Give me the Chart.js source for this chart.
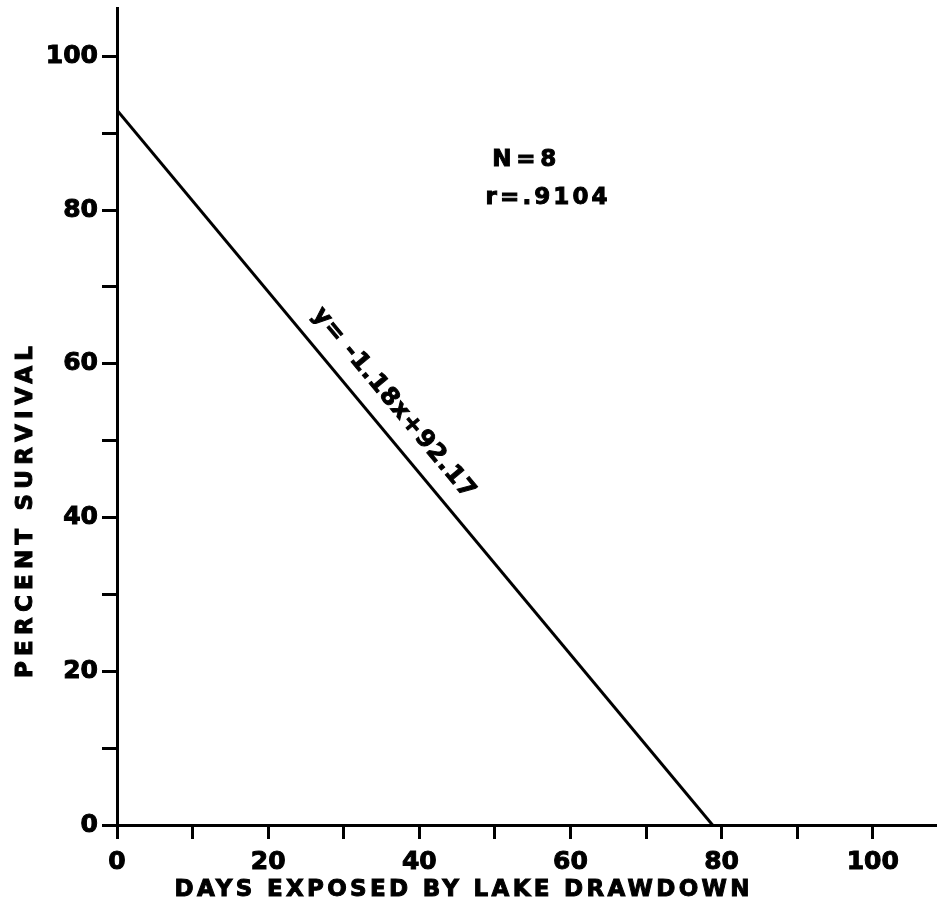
<!DOCTYPE html>
<html>
<head>
<meta charset="utf-8">
<script src="https://cdn.jsdelivr.net/npm/chart.js@4.4.1/dist/chart.umd.min.js"></script>
<style>
  body { margin: 0; background: #fff; }
  canvas { display: block; }
</style>
</head>
<body>
<canvas id="mycanvas" width="937" height="907"></canvas>
<script>
// regression line endpoints
var daysExposed = [0, 78.8];
var percentSurvival = [93.0, 0];

var xTicks = [0, 10, 20, 30, 40, 50, 60, 70, 80, 90, 100];
var yTicks = [0, 10, 20, 30, 40, 50, 60, 70, 80, 90, 100];
var labelEvery = 20;

var xTitle = 'DAYS EXPOSED BY LAKE DRAWDOWN';
var yTitle = 'PERCENT SURVIVAL';
var statLines = ['N=8', 'r=.9104'];
var equationLabel = 'y= -1.18x+92.17';

var tickFont = { family: 'DejaVu Sans', size: 25, weight: 'bold' };

function spacedText(ctx, text, x, y, width) {
	ctx.letterSpacing = '0px';
	var w = ctx.measureText(text).width;
	var sp = (width - w) / (text.length - 1);
	ctx.letterSpacing = sp + 'px';
	ctx.strokeText(text, x + sp / 2, y);
	ctx.fillText(text, x + sp / 2, y);
	ctx.letterSpacing = '0px';
}

var textPlugin = {
	id: 'texts',
	afterDraw: function(chart) {
		var ctx = chart.ctx;
		var xs = chart.scales.x, ys = chart.scales.y;
		ctx.save();
		ctx.fillStyle = '#000';
		ctx.strokeStyle = '#000';
		ctx.lineWidth = 1;
		ctx.textAlign = 'center';
		ctx.textBaseline = 'middle';

		// axis titles
		ctx.font = 'bold 23px "DejaVu Sans"';
		spacedText(ctx, xTitle, 462, 890, 575);
		ctx.save();
		ctx.translate(26, 512);
		ctx.rotate(-Math.PI / 2);
		spacedText(ctx, yTitle, 0, 0, 332);
		ctx.restore();

		// N and r
		ctx.font = 'bold 23px "DejaVu Sans"';
		ctx.textAlign = 'left';
		spacedText(ctx, statLines[0], 490, 160, 64);
		spacedText(ctx, statLines[1], 484, 198, 122);

		// equation along the line
		var x0 = xs.getPixelForValue(daysExposed[0]), y0 = ys.getPixelForValue(percentSurvival[0]);
		var x1 = xs.getPixelForValue(daysExposed[1]), y1 = ys.getPixelForValue(percentSurvival[1]);
		var ang = Math.atan2(y1 - y0, x1 - x0);
		var t = 402 / Math.hypot(x1 - x0, y1 - y0);
		var fx = x0 + (x1 - x0) * t, fy = y0 + (y1 - y0) * t;
		var off = 25;
		var cx = fx + Math.sin(ang) * off, cy = fy - Math.cos(ang) * off;
		ctx.translate(cx, cy);
		ctx.rotate(ang);
		ctx.textAlign = 'center';
		ctx.font = 'bold 24px "DejaVu Sans"';
		spacedText(ctx, equationLabel, 0, 0, 240);
		ctx.restore();
	}
};

var ctx = document.getElementById('mycanvas');

var chart = new Chart(ctx, {
	type: 'scatter',
	data: {
		datasets: [{
			data: daysExposed.map(function(d, i) { return { x: d, y: percentSurvival[i] }; }),
			showLine: true,
			borderColor: '#000',
			borderWidth: 3,
			pointRadius: 0,
			tension: 0
		}]
	},
	options: {
		responsive: false,
		animation: false,
		layout: { padding: { top: 8, right: 0, left: 0, bottom: 0 } },
		plugins: { legend: { display: false }, tooltip: { enabled: false } },
		scales: {
			x: {
				type: 'linear',
				min: 0,
				max: 108.5,
				afterBuildTicks: function(axis) {
					axis.ticks = xTicks.map(function(v) { return { value: v }; });
				},
				afterFit: function(axis) {
					axis.height = 82;
					axis.paddingLeft = 0;
					axis.paddingRight = 0;
				},
				border: { display: true, color: '#000', width: 3 },
				grid: { display: true, drawOnChartArea: false, drawTicks: true, tickLength: 14, color: '#000', lineWidth: 3 },
				ticks: {
					color: '#000',
					font: tickFont,
					padding: 8,
					maxRotation: 0,
					autoSkip: false,
					textStrokeColor: '#000',
					textStrokeWidth: 1,
					callback: function(v) { return v % labelEvery === 0 ? String(v) : ''; }
				}
			},
			y: {
				type: 'linear',
				min: 0,
				max: 106.3,
				afterBuildTicks: function(axis) {
					axis.ticks = yTicks.map(function(v) { return { value: v }; });
				},
				afterFit: function(axis) {
					axis.width = 117;
					axis.paddingTop = 0;
					axis.paddingBottom = 0;
				},
				border: { display: true, color: '#000', width: 3 },
				grid: { display: true, drawOnChartArea: false, drawTicks: true, tickLength: 15, color: '#000', lineWidth: 3 },
				ticks: {
					color: '#000',
					font: tickFont,
					padding: 4,
					autoSkip: false,
					textStrokeColor: '#000',
					textStrokeWidth: 1,
					callback: function(v) { return v % labelEvery === 0 ? String(v) : ''; }
				}
			}
		}
	},
	plugins: [textPlugin]
});
</script>
</body>
</html>
